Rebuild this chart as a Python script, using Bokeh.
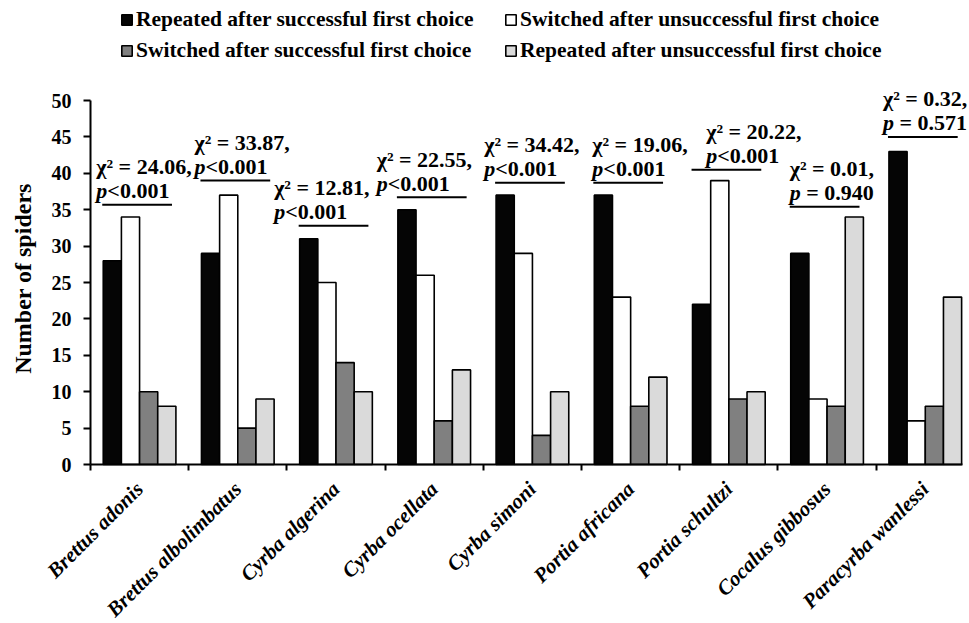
from math import pi
from bokeh.plotting import figure
from bokeh.models import Range1d, FixedTicker, Legend, LegendItem, ColumnDataSource
from bokeh.core.properties import value
from bokeh.embed import file_html
from bokeh.resources import INLINE

# ---------------- data ----------------
species = ["Brettus adonis", "Brettus albolimbatus", "Cyrba algerina", "Cyrba ocellata",
           "Cyrba simoni", "Portia africana", "Portia schultzi", "Cocalus gibbosus",
           "Paracyrba wanlessi"]
series_names = ["Repeated after successful first choice",
                "Switched after unsuccessful first choice",
                "Switched after successful first choice",
                "Repeated after unsuccessful first choice"]
repeated_success = [28, 29, 31, 35, 37, 37, 22, 29, 43]
switched_unsuccess = [34, 37, 25, 26, 29, 23, 39, 9, 6]
switched_success = [10, 5, 14, 6, 4, 8, 9, 8, 8]
repeated_unsuccess = [8, 9, 10, 13, 10, 12, 10, 34, 23]
chi_values = ["24.06", "33.87", "12.81", "22.55", "34.42", "19.06", "20.22", "0.01", "0.32"]
p_texts = ["<0.001", "<0.001", "<0.001", "<0.001", "<0.001", "<0.001", "<0.001",
           "\u00a0= 0.940", "\u00a0= 0.571"]
y_ticks = [0, 5, 10, 15, 20, 25, 30, 35, 40, 45, 50]
y_title = "Number of spiders"

# ---------------- layout / style ----------------
bracket_y = [35.7, 39.0, 32.8, 36.7, 38.7, 38.7, 40.5, 35.4, 45.0]
text_dx = [-0.44, -0.44, -0.63, -0.585, -0.49, -0.39, -0.23, -0.38, -0.43]
colors = ["#050505", "#ffffff", "#808080", "#dadada"]
FONT = value("Liberation Serif")
n = len(species)
centers = [i + 0.5 for i in range(n)]
bar_w = 0.185
offsets = [-1.5 * bar_w, -0.5 * bar_w, 0.5 * bar_w, 1.5 * bar_w]
all_series = [repeated_success, switched_unsuccess, switched_success, repeated_unsuccess]
y_lo, y_hi = y_ticks[0], y_ticks[-1]

# the frame covers the whole canvas; both axes are drawn at fixed data locations
p = figure(frame_width=968, frame_height=622,
           x_range=Range1d(-0.916, 8.94), y_range=Range1d(-21.70, 63.74),
           output_backend="svg", toolbar_location=None,
           min_border_left=0, min_border_top=0, min_border_right=0, min_border_bottom=0)
p.outline_line_color = None
p.xgrid.visible = False
p.ygrid.visible = False
p.background_fill_color = "white"
p.border_fill_color = "white"

renderers = []
for vals, off, col in zip(all_series, offsets, colors):
    src = ColumnDataSource(dict(x=[c + off for c in centers], top=vals))
    r = p.vbar(x="x", top="top", width=bar_w, bottom=0, source=src,
               fill_color=col, line_color="black", line_width=1.6)
    renderers.append(r)

# brackets and statistics
seg_src = ColumnDataSource(dict(x0=[c - 0.38 for c in centers], x1=[c + 0.33 for c in centers],
                                y=bracket_y))
p.segment(x0="x0", x1="x1", y0="y", y1="y", source=seg_src, line_color="black", line_width=2)

txt_src = ColumnDataSource(dict(x=[c + d for c, d in zip(centers, text_dx)], y=bracket_y,
                                chi=["\u03c7\u00b2 = " + v + "," for v in chi_values],
                                pl=["p"] * n, pv=p_texts))
common = dict(text_font=FONT, text_font_size="22px", text_color="black",
              text_align="left", text_baseline="alphabetic", source=txt_src)
p.text(x="x", y="y", text="chi", y_offset=-38, text_font_style="bold", **common)
p.text(x="x", y="y", text="pl", y_offset=-14, text_font_style="bold italic", **common)
p.text(x="x", y="y", text="pv", y_offset=-14, x_offset=11, text_font_style="bold", **common)

# y axis (drawn at x = 0)
ya = p.yaxis[0]
ya.fixed_location = 0
ya.ticker = FixedTicker(ticks=y_ticks)
ya.bounds = (y_lo, y_hi)
ya.major_label_text_font = "Liberation Serif"
ya.major_label_text_font_style = "bold"
ya.major_label_text_font_size = "20px"
ya.major_label_text_color = "black"
ya.major_label_standoff = 12
ya.major_tick_in = 0
ya.major_tick_out = 7
ya.minor_tick_line_color = None
ya.axis_line_width = 2
ya.major_tick_line_width = 2

# y axis title
p.text(x=[0], y=[(y_lo + y_hi) / 2], text=[y_title], angle=pi / 2, x_offset=-67, y_offset=-4,
       text_align="center", text_baseline="middle", text_font=FONT,
       text_font_style="bold", text_font_size="24px", text_color="black")

# x axis (drawn at y = 0)
xa = p.xaxis[0]
xa.fixed_location = 0
xa.ticker = FixedTicker(ticks=centers, minor_ticks=list(range(0, n + 1)))
xa.bounds = (0, 8.88)
xa.major_label_overrides = {c: s for c, s in zip(centers, species)}
xa.major_label_orientation = pi / 4
xa.major_label_text_font = "Liberation Serif"
xa.major_label_text_font_style = "bold italic"
xa.major_label_text_font_size = "21px"
xa.major_label_text_color = "black"
xa.major_label_standoff = 15
xa.major_tick_in = 0
xa.major_tick_out = 0
xa.major_tick_line_color = None
xa.minor_tick_in = 0
xa.minor_tick_out = 6
xa.minor_tick_line_width = 2
xa.axis_line_width = 2

legend = Legend(items=[LegendItem(label=nm, renderers=[r]) for nm, r in zip(series_names, renderers)],
                orientation="horizontal", nrows=2, location=(120, 559),
                padding=0, spacing=6, label_standoff=3, glyph_width=13, glyph_height=13,
                label_width=362,
                border_line_color=None, background_fill_alpha=0,
                label_text_font="Liberation Serif", label_text_font_style="bold",
                label_text_font_size="21.5px", label_text_color="black")
p.add_layout(legend, "center")

open("out.html", "w").write(file_html(p, INLINE))
